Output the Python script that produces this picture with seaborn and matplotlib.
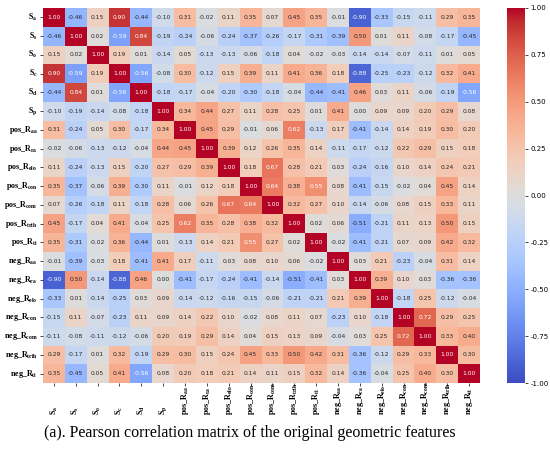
import numpy as np
import pandas as pd
import matplotlib
matplotlib.use("Agg")
import matplotlib.pyplot as plt
import seaborn as sns

# feature names (rows / columns)
features = ["S_a", "S_s", "S_o", "S_c", "S_d", "S_p",
            "pos_R_aa", "pos_R_ra", "pos_R_elo", "pos_R_con", "pos_R_com", "pos_R_trih", "pos_R_ti",
            "neg_R_aa", "neg_R_ra", "neg_R_elo", "neg_R_con", "neg_R_com", "neg_R_trih", "neg_R_ti"]

# correlation values read row by row
r_S_a = [1.00, -0.46, 0.15, 0.90, -0.44, -0.10, 0.31, -0.02, 0.11, 0.35, 0.07, 0.45, 0.35, -0.01, -0.90, -0.33, -0.15, -0.11, 0.29, 0.35]
r_S_s = [-0.46, 1.00, 0.02, -0.59, 0.84, -0.19, -0.24, -0.06, -0.24, -0.37, -0.26, -0.17, -0.31, -0.39, 0.50, 0.01, 0.11, -0.08, -0.17, -0.45]
r_S_o = [0.15, 0.02, 1.00, 0.19, 0.01, -0.14, 0.05, -0.13, -0.13, -0.06, -0.18, 0.04, -0.02, -0.03, -0.14, -0.14, -0.07, -0.11, 0.01, 0.05]
r_S_c = [0.90, -0.59, 0.19, 1.00, -0.56, -0.08, 0.30, -0.12, 0.15, 0.39, 0.11, 0.41, 0.36, 0.18, -0.88, -0.25, -0.23, -0.12, 0.32, 0.41]
r_S_d = [-0.44, 0.84, 0.01, -0.56, 1.00, -0.18, -0.17, -0.04, -0.20, -0.30, -0.18, -0.04, -0.44, -0.41, 0.46, 0.03, 0.11, -0.06, -0.19, -0.56]
r_S_p = [-0.10, -0.19, -0.14, -0.08, -0.18, 1.00, 0.34, 0.44, 0.27, 0.11, 0.28, 0.25, 0.01, 0.41, 0.00, 0.09, 0.09, 0.20, 0.29, 0.08]
r_pos_aa = [0.31, -0.24, 0.05, 0.30, -0.17, 0.34, 1.00, 0.45, 0.29, -0.01, 0.06, 0.62, -0.13, 0.17, -0.41, -0.14, 0.14, 0.19, 0.30, 0.20]
r_pos_ra = [-0.02, -0.06, -0.13, -0.12, -0.04, 0.44, 0.45, 1.00, 0.39, 0.12, 0.26, 0.35, 0.14, -0.11, -0.17, -0.12, 0.22, 0.29, 0.15, 0.18]
r_pos_elo = [0.11, -0.24, -0.13, 0.15, -0.20, 0.27, 0.29, 0.39, 1.00, 0.18, 0.67, 0.28, 0.21, 0.03, -0.24, -0.16, 0.10, 0.14, 0.24, 0.21]
r_pos_con = [0.35, -0.37, -0.06, 0.39, -0.30, 0.11, -0.01, 0.12, 0.18, 1.00, 0.64, 0.38, 0.55, 0.08, -0.41, -0.15, -0.02, 0.04, 0.45, 0.14]
r_pos_com = [0.07, -0.26, -0.18, 0.11, -0.18, 0.28, 0.06, 0.26, 0.67, 0.64, 1.00, 0.32, 0.27, 0.10, -0.14, -0.06, 0.08, 0.15, 0.33, 0.11]
r_pos_trih = [0.45, -0.17, 0.04, 0.41, -0.04, 0.25, 0.62, 0.35, 0.28, 0.38, 0.32, 1.00, 0.02, 0.06, -0.51, -0.21, 0.11, 0.13, 0.50, 0.15]
r_pos_ti = [0.35, -0.31, -0.02, 0.36, -0.44, 0.01, -0.13, 0.14, 0.21, 0.55, 0.27, 0.02, 1.00, -0.02, -0.41, -0.21, 0.07, 0.09, 0.42, 0.32]
r_neg_aa = [-0.01, -0.39, -0.03, 0.18, -0.41, 0.41, 0.17, -0.11, 0.03, 0.08, 0.10, 0.06, -0.02, 1.00, 0.03, 0.21, -0.23, -0.04, 0.31, 0.14]
r_neg_ra = [-0.90, 0.50, -0.14, -0.88, 0.46, 0.00, -0.41, -0.17, -0.24, -0.41, -0.14, -0.51, -0.41, 0.03, 1.00, 0.39, 0.10, 0.03, -0.36, -0.36]
r_neg_elo = [-0.33, 0.01, -0.14, -0.25, 0.03, 0.09, -0.14, -0.12, -0.16, -0.15, -0.06, -0.21, -0.21, 0.21, 0.39, 1.00, -0.18, 0.25, -0.12, -0.04]
r_neg_con = [-0.15, 0.11, -0.07, -0.23, 0.11, 0.09, 0.14, 0.22, 0.10, -0.02, 0.08, 0.11, 0.07, -0.23, 0.10, -0.18, 1.00, 0.72, 0.29, 0.25]
r_neg_com = [-0.11, -0.08, -0.11, -0.12, -0.06, 0.20, 0.19, 0.29, 0.14, 0.04, 0.15, 0.13, 0.09, -0.04, 0.03, 0.25, 0.72, 1.00, 0.33, 0.40]
r_neg_trih = [0.29, -0.17, 0.01, 0.32, -0.19, 0.29, 0.30, 0.15, 0.24, 0.45, 0.33, 0.50, 0.42, 0.31, -0.36, -0.12, 0.29, 0.33, 1.00, 0.30]
r_neg_ti = [0.35, -0.45, 0.05, 0.41, -0.56, 0.08, 0.20, 0.18, 0.21, 0.14, 0.11, 0.15, 0.32, 0.14, -0.36, -0.04, 0.25, 0.40, 0.30, 1.00]

rows = [r_S_a, r_S_s, r_S_o, r_S_c, r_S_d, r_S_p,
        r_pos_aa, r_pos_ra, r_pos_elo, r_pos_con, r_pos_com, r_pos_trih, r_pos_ti,
        r_neg_aa, r_neg_ra, r_neg_elo, r_neg_con, r_neg_com, r_neg_trih, r_neg_ti]

corr = pd.DataFrame(rows, index=features, columns=features)

# bold serif labels with subscripts
plt.rcParams['mathtext.fontset'] = 'custom'
plt.rcParams['mathtext.rm'] = 'Liberation Serif:bold'
plt.rcParams['mathtext.bf'] = 'Liberation Serif:bold'
plt.rcParams['mathtext.it'] = 'Liberation Serif:bold'

def pretty(name):
    base, sub = name.rsplit("_", 1)
    return base + r"$_\mathbf{" + sub + "}$"

labels = [pretty(f) for f in features]

fig = plt.figure(figsize=(5.5, 4.51), dpi=100)
ax = fig.add_axes([43/550, 1 - 383/451, 437/550, 375/451])
cax = fig.add_axes([507/550, 1 - 383/451, 18/550, 375/451])

sns.heatmap(corr, ax=ax, cbar_ax=cax, cmap="coolwarm", vmin=-1, vmax=1,
            annot=True, fmt=".2f", annot_kws={"fontsize": 4.3},
            xticklabels=labels, yticklabels=labels)

ax.set_yticklabels(labels, rotation=0, fontsize=5.8, family="Liberation Serif", fontweight="bold")
ax.set_xticklabels(labels, rotation=90, fontsize=5.8, family="Liberation Serif", fontweight="bold")
# x labels sit with their ends on a common baseline below the ticks
ax.tick_params(axis="y", length=2, width=0.5, pad=2)
ax.tick_params(axis="x", length=2, width=0.5, pad=21)
for t in ax.get_xticklabels():
    t.set_va("bottom")

cax.set_yticks([-1, -0.75, -0.5, -0.25, 0, 0.25, 0.5, 0.75, 1])
cax.set_yticklabels(["%.2f" % t for t in [-1, -0.75, -0.5, -0.25, 0, 0.25, 0.5, 0.75, 1]], fontsize=5)
cax.tick_params(length=2, width=0.5, pad=2)

fig.text(0.455, 0.04, "(a). Pearson correlation matrix of the original geometric features",
         ha="center", va="center", fontsize=11.5, family="Liberation Serif")

fig.savefig("out.png", dpi=100)
